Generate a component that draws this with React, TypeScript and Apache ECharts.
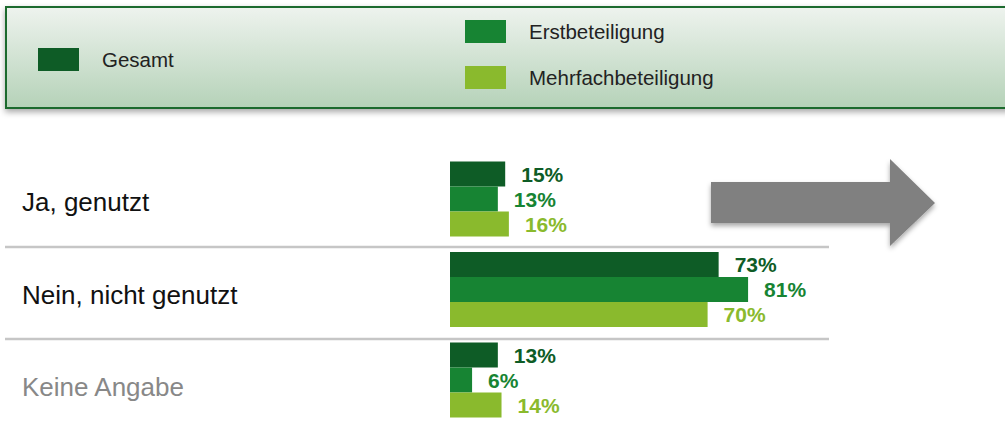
import React, { useEffect, useRef } from "react";
import * as echarts from "echarts";

const categories = ["Ja, genutzt", "Nein, nicht genutzt", "Keine Angabe"];
const categoryColors = ["#111111", "#111111", "#888888"];
const seriesNames = ["Gesamt", "Erstbeteiligung", "Mehrfachbeteiligung"];
const gesamt = [15, 73, 13];
const erst = [13, 81, 6];
const mehrfach = [16, 70, 14];
const seriesColors = ["#0e5c26", "#178433", "#8aba2d"];

const FONT = "'Liberation Sans', Arial, sans-serif";

export default function App() {
  const ref = useRef<HTMLDivElement>(null);
  useEffect(() => {
    if (!ref.current) return;
    const chart = echarts.init(ref.current, null, { renderer: "svg" });
    const values = [gesamt, erst, mehrfach];
    const legendBase = {
      orient: "vertical",
      icon: "rect",
      itemWidth: 41,
      itemHeight: 23,
      itemGap: 23,
      selectedMode: false,
      padding: 0,
      textStyle: { fontSize: 20.5, color: "#222", fontFamily: FONT, padding: [0, 0, 3, 18] },
    };
    chart.setOption({
      animation: false,
      textStyle: { fontFamily: FONT },
      legend: [
        { ...legendBase, left: 38, top: 48, data: [seriesNames[0]] },
        { ...legendBase, left: 465, top: 20, data: [seriesNames[1], seriesNames[2]] },
      ],
      graphic: [
        {
          type: "rect",
          z: -10,
          shape: { x: 6, y: 7, width: 1020, height: 101 },
          style: {
            fill: new echarts.graphic.LinearGradient(0, 0, 0, 1, [
              { offset: 0, color: "#eef3ee" },
              { offset: 1, color: "#b5d2b8" },
            ]),
            stroke: "#1f6b2f",
            lineWidth: 2,
            shadowBlur: 6,
            shadowOffsetY: 3,
            shadowColor: "rgba(0,0,0,0.35)",
          },
        },
        {
          type: "polygon",
          shape: {
            points: [
              [711, 182],
              [890, 182],
              [890, 159],
              [935, 203],
              [890, 246],
              [890, 223],
              [711, 223],
            ],
          },
          style: {
            fill: "#808080",
            shadowBlur: 5,
            shadowOffsetY: 3,
            shadowColor: "rgba(0,0,0,0.35)",
          },
        },
        {
          type: "line",
          shape: { x1: 5, y1: 247, x2: 829, y2: 247 },
          style: { stroke: "#c6c6c6", lineWidth: 2.5 },
        },
        {
          type: "line",
          shape: { x1: 5, y1: 339, x2: 829, y2: 339 },
          style: { stroke: "#c6c6c6", lineWidth: 2.5 },
        },
      ],
      grid: { left: 450, top: 153.75, width: 368, height: 271.5, containLabel: false },
      xAxis: {
        type: "value",
        min: 0,
        max: 100,
        show: false,
      },
      yAxis: {
        type: "category",
        inverse: true,
        data: categories,
        axisLine: { show: false },
        axisTick: { show: false },
        splitLine: { show: false },
        axisLabel: {
          align: "left",
          margin: 428,
          formatter: (v: string, i: number) => `{c${i}|${v}}`,
          rich: {
            c0: { fontSize: 26, fontFamily: FONT, color: categoryColors[0], padding: [6, 0, 0, 0] },
            c1: { fontSize: 26, fontFamily: FONT, color: categoryColors[1], padding: [11, 0, 0, 0] },
            c2: { fontSize: 26, fontFamily: FONT, color: categoryColors[2], padding: [14, 0, 0, 0] },
          },
        },
      },
      series: seriesNames.map((name, i) => ({
        name,
        type: "bar",
        data: values[i],
        barWidth: 25,
        barGap: "0%",
        itemStyle: { color: seriesColors[i] },
        label: {
          show: true,
          position: "right",
          distance: 16,
          formatter: "{c}%",
          fontSize: 21,
          fontWeight: "bold",
          fontFamily: FONT,
          color: seriesColors[i],
          padding: [5, 0, 0, 0],
        },
      })),
    });
    return () => chart.dispose();
  }, []);
  return <div ref={ref} style={{ width: 1005, height: 428, position: "absolute", left: 0, top: 0 }} />;
}
